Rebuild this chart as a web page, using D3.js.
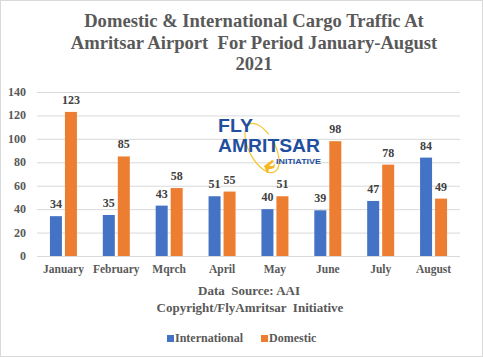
<!DOCTYPE html>
<html><head><meta charset="utf-8">
<script src="https://cdn.jsdelivr.net/npm/d3@7"></script>
<style>
html,body{margin:0;padding:0;background:#fff;}
svg text{font-family:"Liberation Serif","Times New Roman",serif;font-weight:bold;}
</style></head>
<body>
<svg id="c" width="483" height="357"></svg>
<script>
const months = ["January","February","Mqrch","April","May","June","July","August"];
const international = [34,35,43,51,40,39,47,84];
const domestic = [123,85,58,55,51,98,78,49];
const yTicks = [0,20,40,60,80,100,120,140];
const titleLines = ["Domestic & International Cargo Traffic At","Amritsar Airport  For Period January-August","2021"];
const seriesNames = ["International","Domestic"];
const colors = ["#4472c4","#ed7d31"];

const svg = d3.select("#c");
svg.append("rect").attr("x",0.5).attr("y",0.5).attr("width",482).attr("height",356)
  .attr("fill","#fff").attr("stroke","#d9d9d9");

const x = d3.scaleBand().domain(months).range([37,460]);
const y = d3.scaleLinear().domain([0,140]).range([256,92]);

// gridlines
svg.append("g").selectAll("line").data(yTicks).join("line")
  .attr("x1",37).attr("x2",460).attr("y1",d=>y(d)+0.5).attr("y2",d=>y(d)+0.5)
  .attr("stroke","#d9d9d9").attr("stroke-width",1);

// y axis labels
svg.append("g").selectAll("text").data(yTicks).join("text")
  .attr("x",26).attr("y",d=>y(d)+4).attr("text-anchor","end")
  .attr("font-size",12).attr("fill","#595959").text(d=>d);

// x labels
svg.append("g").selectAll("text").data(months).join("text")
  .attr("x",d=>x(d)+x.bandwidth()/2).attr("y",273).attr("text-anchor","middle")
  .attr("font-size",11.5).attr("fill","#595959").text(d=>d);

// logo
const logo = svg.append("g");
logo.append("ellipse").attr("cx",0).attr("cy",0).attr("rx",13).attr("ry",27)
  .attr("transform","translate(262,148) rotate(-28)")
  .attr("fill","none").attr("stroke","#f7c531").attr("stroke-width",1.2)
  .attr("stroke-dasharray","120 30");
logo.append("path").attr("d","M264,166 l8,-6 l2,1 l-5,5 l4,0 l1,-2 l1,1 l-1,3 l-3,1 l-2,0 l-1,4 l-1,0 z")
  .attr("fill","#f5b820");
logo.append("text").attr("x",218).attr("y",132).attr("font-size",17.5)
  .style("font-family","'Liberation Sans',Arial,sans-serif").attr("fill","#1f4f9e")
  .attr("textLength",35).attr("lengthAdjust","spacingAndGlyphs").text("FLY");
logo.append("text").attr("x",218).attr("y",152).attr("font-size",17.5)
  .style("font-family","'Liberation Sans',Arial,sans-serif").attr("fill","#1f4f9e")
  .attr("textLength",102).attr("lengthAdjust","spacingAndGlyphs").text("AMRITSAR");
logo.append("text").attr("x",276).attr("y",164).attr("font-size",8)
  .style("font-family","'Liberation Sans',Arial,sans-serif").attr("fill","#1f4f9e")
  .attr("textLength",45).attr("lengthAdjust","spacingAndGlyphs").text("INITIATIVE");

// bars
const bw = 12, gap = 3;
const series = [international, domestic];
series.forEach((vals,si)=>{
  const g = svg.append("g");
  const off = si===0 ? -(bw+gap/2) : gap/2;
  g.selectAll("rect").data(vals).join("rect")
    .attr("x",(d,i)=>x(months[i])+x.bandwidth()/2+off)
    .attr("y",d=>y(d)).attr("width",bw).attr("height",d=>y(0)-y(d))
    .attr("fill",colors[si]);
  g.selectAll("text").data(vals).join("text")
    .attr("x",(d,i)=>x(months[i])+x.bandwidth()/2+off+bw/2)
    .attr("y",d=>y(d)-8).attr("text-anchor","middle")
    .attr("font-size",12).attr("fill","#404040").text(d=>d);
});

// title
svg.append("g").selectAll("text").data(titleLines).join("text")
  .attr("x",254).attr("y",(d,i)=>27+i*21.7).attr("text-anchor","middle")
  .attr("font-size",18.6).attr("fill","#595959").style("white-space","pre").text(d=>d);

// footer
svg.append("text").attr("x",249).attr("y",295).attr("text-anchor","middle")
  .attr("font-size",13).attr("fill","#595959").style("white-space","pre").text("Data  Source: AAI");
svg.append("text").attr("x",250).attr("y",312).attr("text-anchor","middle")
  .attr("font-size",13).attr("fill","#595959").style("white-space","pre").text("Copyright/FlyAmritsar  Initiative");

// legend
const legX = [167,261];
seriesNames.forEach((n,i)=>{
  svg.append("rect").attr("x",legX[i]).attr("y",335).attr("width",7).attr("height",7).attr("fill",colors[i]);
  svg.append("text").attr("x",legX[i]+8).attr("y",342).attr("font-size",12)
    .attr("fill","#595959").text(n);
});
</script>
</body></html>
